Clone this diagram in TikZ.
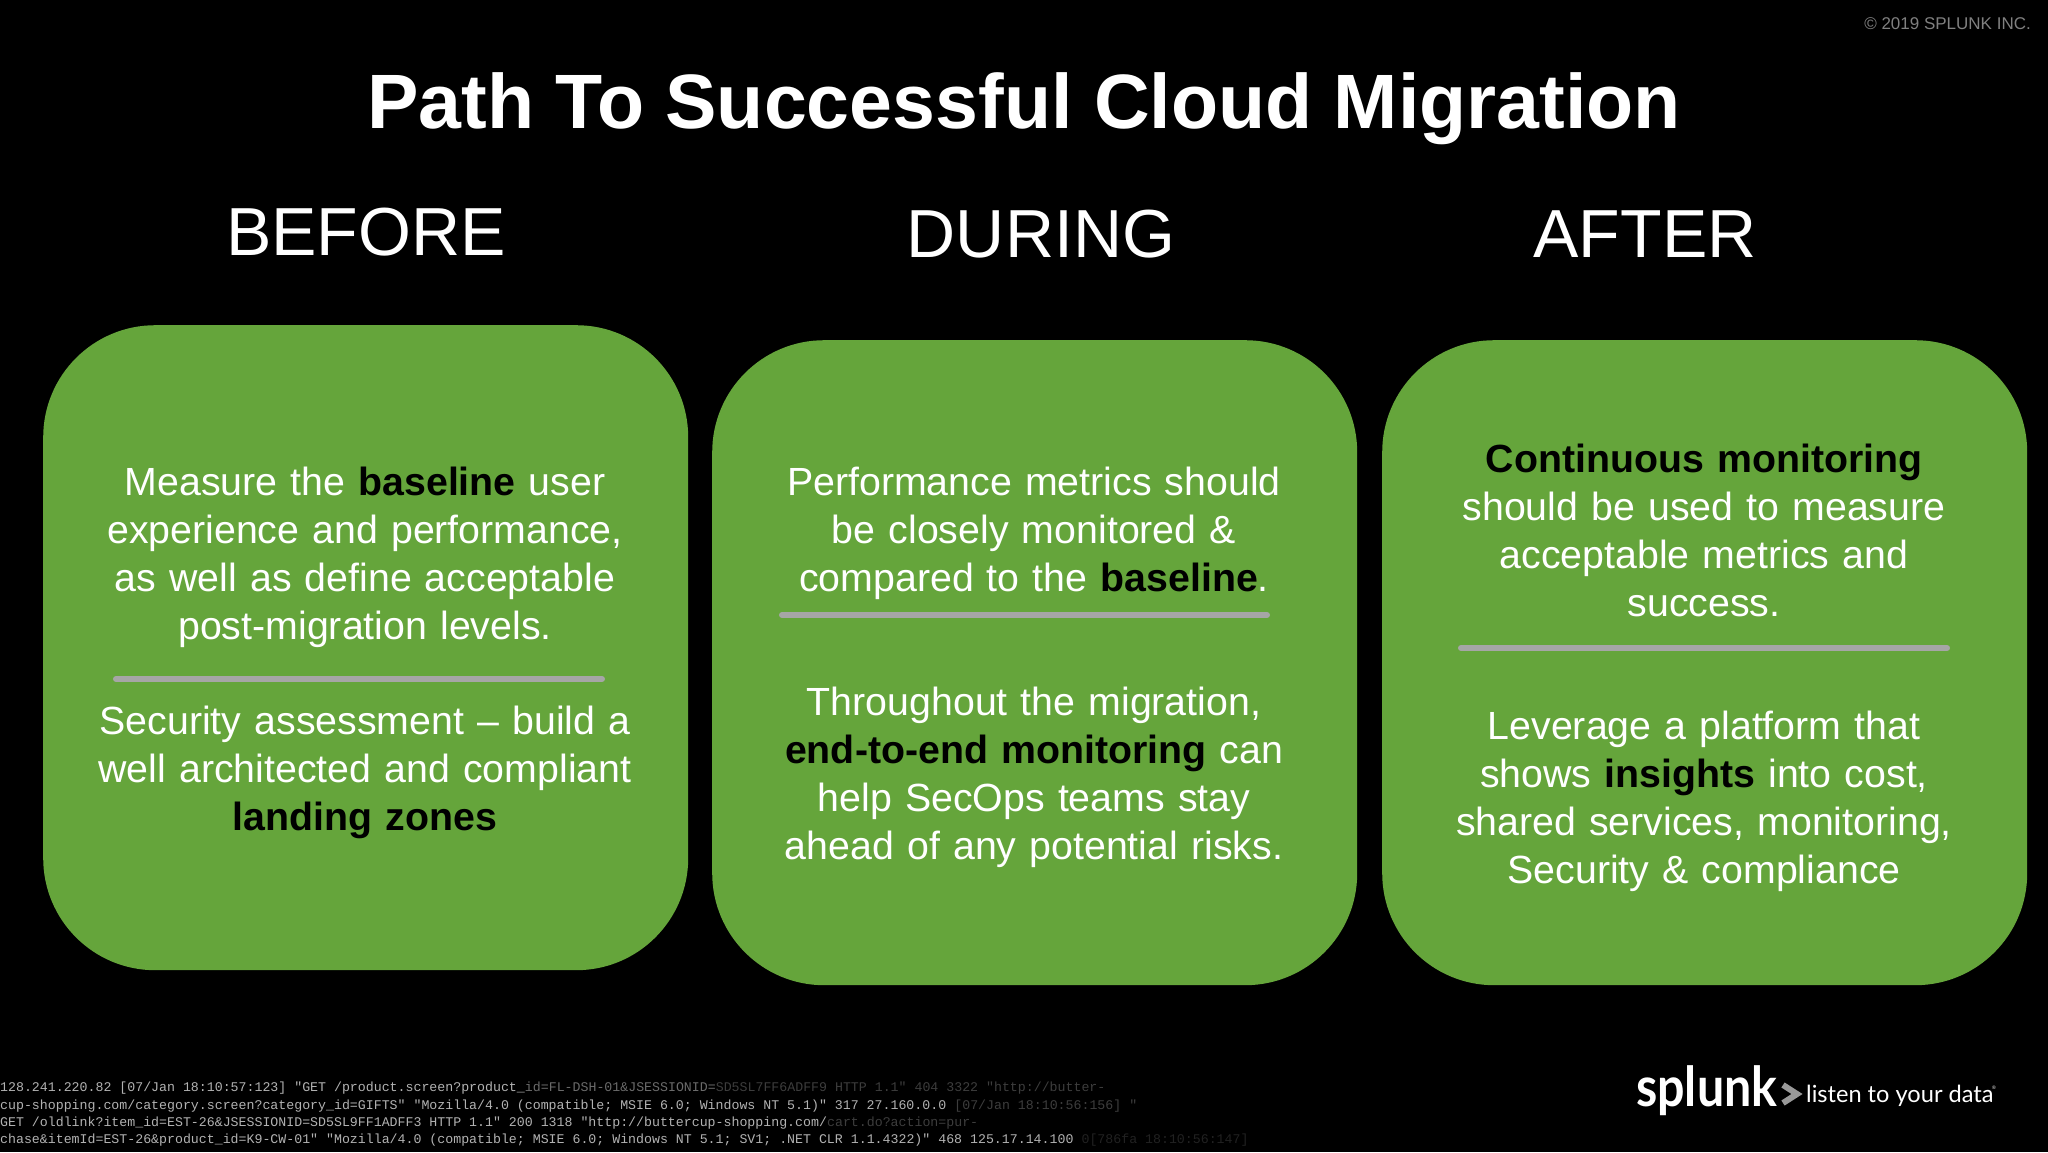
\documentclass[tikz,border=0pt]{standalone}
\usepackage{fontspec}
\setmainfont{Liberation Sans}
\newfontfamily\logofont{Lato}
\newfontfamily\logmono{Liberation Mono}
\definecolor{boxgreen}{HTML}{65A53B}
\definecolor{rulegray}{HTML}{A6A6A6}
\definecolor{logA}{gray}{0.70}
\definecolor{logB}{gray}{0.42}
\definecolor{logC}{gray}{0.24}
\definecolor{logD}{gray}{0.13}
\newcommand{\kw}[1]{\textcolor{black}{\textbf{#1}}}
\tikzset{
  x=1pt,y=-1pt,
  greenbox/.style={fill=boxgreen,draw=none,rounded corners=112pt,minimum width=645pt,minimum height=645pt,inner sep=0pt,anchor=north west},
  bodytext/.style={text=white,align=center,font=\fontsize{39.3}{48}\selectfont,inner sep=0pt,text width=640pt},
  header/.style={text=white,font=\fontsize{68}{76}\selectfont,inner sep=0pt},
  divider/.style={draw=rulegray,line width=6pt,line cap=round},
  logline/.style={anchor=base west,inner sep=0pt,font=\logmono\fontsize{13.25}{14}\selectfont},
}
\begin{document}
\begin{tikzpicture}
\useasboundingbox[fill=black] (0,0) rectangle (2048,1152);
\node[anchor=east,text=black!50!white,inner sep=0pt,font=\fontsize{17}{20}\selectfont] (copy) at (2031,24) {© 2019 SPLUNK INC.};
\node[text=white,inner sep=0pt,font=\bfseries\fontsize{77.1}{86}\selectfont] (title) at (1024,109) {Path To Successful Cloud Migration};
\node[header] (h1) at (366,232) {BEFORE};
\node[header] (h2) at (1041,234) {DURING};
\node[header] (h3) at (1645,234) {AFTER};

\node[greenbox] (b1) at (43,325) {};
\node[greenbox] (b2) at (712,340) {};
\node[greenbox] (b3) at (1382,340) {};

\node[bodytext] (t1a) at (365,557) {Measure the \kw{baseline} user\\experience and performance,\\as well as define acceptable\\post-migration levels.};
\coordinate (d1l) at (116,679); \coordinate (d1r) at (602,679);
\draw[divider] (d1l) -- (d1r);
\node[bodytext] (t1b) at (365,772) {Security assessment – build a\\well architected and compliant\\\kw{landing zones}};

\node[bodytext] (t2a) at (1034,533) {Performance metrics should\\be closely monitored \&\\compared to the \kw{baseline}.};
\coordinate (d2l) at (782,615); \coordinate (d2r) at (1267,615);
\draw[divider] (d2l) -- (d2r);
\node[bodytext] (t2b) at (1034,777) {Throughout the migration,\\\kw{end-to-end monitoring} can\\help SecOps teams stay\\ahead of any potential risks.};

\node[bodytext] (t3a) at (1704,530) {\kw{Continuous monitoring}\\should be used to measure\\acceptable metrics and\\success.};
\coordinate (d3l) at (1461,648); \coordinate (d3r) at (1947,648);
\draw[divider] (d3l) -- (d3r);
\node[bodytext] (t3b) at (1704,801) {Leverage a platform that\\shows \kw{insights} into cost,\\shared services, monitoring,\\Security \& compliance};

\node[logline] (l1) at (0,1091) {\textcolor{logA}{128.241.220.82 [07/Jan 18:10:57:123] "GET /product.screen?product\_}\textcolor{logB}{id=FL-DSH-01\&JSESSIONID=}\textcolor{logC}{SD5SL7FF6ADFF9 HTTP 1.1" 404 3322 "http://butter-}};
\node[logline] (l2) at (0,1109) {\textcolor{logA}{cup-shopping.com/category.screen?category\_id=GIFTS" "Mozilla/4.0 (compatible; MSIE 6.0; Windows NT 5.1)" 317 27.160.0.0 }\textcolor{logC}{[07/Jan 18:10:56:156] "}};
\node[logline] (l3) at (0,1126) {\textcolor{logA}{GET /oldlink?item\_id=EST-26\&JSESSIONID=SD5SL9FF1ADFF3 HTTP 1.1" 200 1318 "http://buttercup-shopping.com/}\textcolor{logC}{cart.do?action=pur-}};
\node[logline] (l4) at (0,1143) {\textcolor{logA}{chase\&itemId=EST-26\&product\_id=K9-CW-01" "Mozilla/4.0 (compatible; MSIE 6.0; Windows NT 5.1; SV1; .NET CLR 1.1.4322)" 468 125.17.14.100 }\textcolor{logD}{0{[}786fa 18:10:56:147]}};

\node[anchor=base west,inner sep=0pt,text=white,xscale=.88,transform shape,font=\logofont\bfseries\fontsize{55}{60}\selectfont] (logo) at (1636,1106) {splunk};
\coordinate (c1) at (1783,1085); \coordinate (c2) at (1797,1094); \coordinate (c3) at (1783,1103);
\draw[draw=black!40!white,line width=6pt,miter limit=10] (c1) -- (c2) -- (c3);
\node[anchor=base west,inner sep=0pt,text=white,font=\logofont\fontsize{23.6}{28}\selectfont] (tag) at (1806,1102) {listen to your data};
\node[anchor=base west,inner sep=0pt,text=white,font=\fontsize{5}{6}\selectfont] (reg) at (1992,1089) {®};
\end{tikzpicture}
\end{document}
